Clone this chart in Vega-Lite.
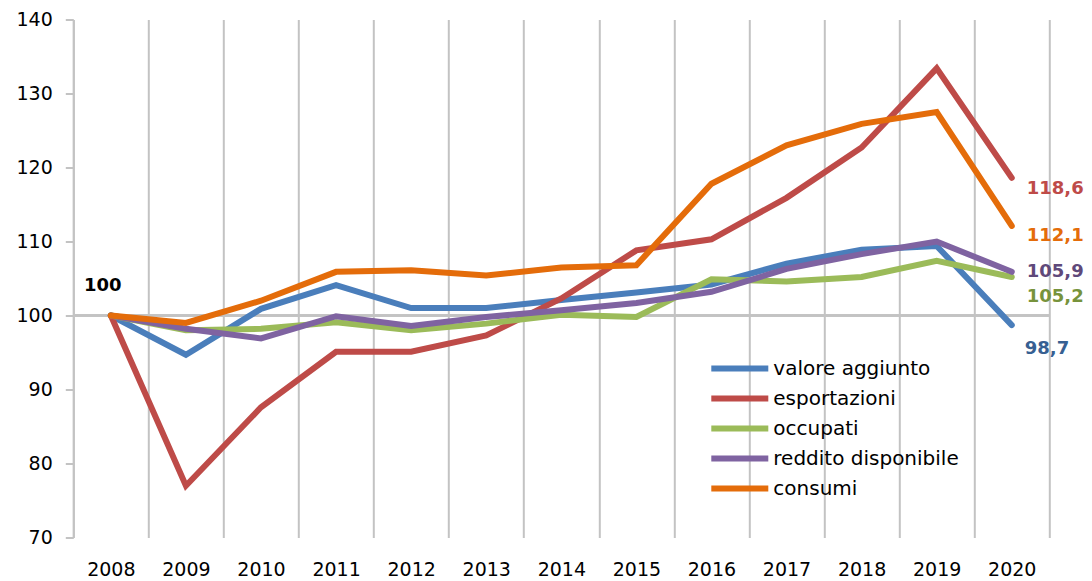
{
  "$schema": "https://vega.github.io/schema/vega-lite/v6.json",
  "width": 976,
  "height": 518,
  "autosize": {"type": "none"},
  "padding": {"left": 73.3, "top": 19.5, "right": 42.7, "bottom": 43.5},
  "background": "white",
  "config": {"view": {"stroke": null}, "font": "DejaVu Sans"},
  "data": {
    "values": [
      {"year": 2008, "series": "valore aggiunto", "value": 100},
      {"year": 2009, "series": "valore aggiunto", "value": 94.7},
      {"year": 2010, "series": "valore aggiunto", "value": 100.9},
      {"year": 2011, "series": "valore aggiunto", "value": 104.1},
      {"year": 2012, "series": "valore aggiunto", "value": 101.0},
      {"year": 2013, "series": "valore aggiunto", "value": 101.0},
      {"year": 2014, "series": "valore aggiunto", "value": 102.1},
      {"year": 2015, "series": "valore aggiunto", "value": 103.1},
      {"year": 2016, "series": "valore aggiunto", "value": 104.2},
      {"year": 2017, "series": "valore aggiunto", "value": 107.0},
      {"year": 2018, "series": "valore aggiunto", "value": 108.9},
      {"year": 2019, "series": "valore aggiunto", "value": 109.4},
      {"year": 2020, "series": "valore aggiunto", "value": 98.7},
      {"year": 2008, "series": "esportazioni", "value": 100},
      {"year": 2009, "series": "esportazioni", "value": 77.0},
      {"year": 2010, "series": "esportazioni", "value": 87.6},
      {"year": 2011, "series": "esportazioni", "value": 95.1},
      {"year": 2012, "series": "esportazioni", "value": 95.1},
      {"year": 2013, "series": "esportazioni", "value": 97.3},
      {"year": 2014, "series": "esportazioni", "value": 102.3},
      {"year": 2015, "series": "esportazioni", "value": 108.8},
      {"year": 2016, "series": "esportazioni", "value": 110.3},
      {"year": 2017, "series": "esportazioni", "value": 115.9},
      {"year": 2018, "series": "esportazioni", "value": 122.7},
      {"year": 2019, "series": "esportazioni", "value": 133.4},
      {"year": 2020, "series": "esportazioni", "value": 118.6},
      {"year": 2008, "series": "occupati", "value": 100},
      {"year": 2009, "series": "occupati", "value": 98.0},
      {"year": 2010, "series": "occupati", "value": 98.2},
      {"year": 2011, "series": "occupati", "value": 99.1},
      {"year": 2012, "series": "occupati", "value": 98.0},
      {"year": 2013, "series": "occupati", "value": 98.9},
      {"year": 2014, "series": "occupati", "value": 100.1},
      {"year": 2015, "series": "occupati", "value": 99.8},
      {"year": 2016, "series": "occupati", "value": 104.9},
      {"year": 2017, "series": "occupati", "value": 104.6},
      {"year": 2018, "series": "occupati", "value": 105.2},
      {"year": 2019, "series": "occupati", "value": 107.4},
      {"year": 2020, "series": "occupati", "value": 105.2},
      {"year": 2008, "series": "reddito disponibile", "value": 100},
      {"year": 2009, "series": "reddito disponibile", "value": 98.2},
      {"year": 2010, "series": "reddito disponibile", "value": 96.9},
      {"year": 2011, "series": "reddito disponibile", "value": 99.9},
      {"year": 2012, "series": "reddito disponibile", "value": 98.6},
      {"year": 2013, "series": "reddito disponibile", "value": 99.8},
      {"year": 2014, "series": "reddito disponibile", "value": 100.7},
      {"year": 2015, "series": "reddito disponibile", "value": 101.7},
      {"year": 2016, "series": "reddito disponibile", "value": 103.2},
      {"year": 2017, "series": "reddito disponibile", "value": 106.3},
      {"year": 2018, "series": "reddito disponibile", "value": 108.3},
      {"year": 2019, "series": "reddito disponibile", "value": 110.0},
      {"year": 2020, "series": "reddito disponibile", "value": 105.9},
      {"year": 2008, "series": "consumi", "value": 100},
      {"year": 2009, "series": "consumi", "value": 99.0},
      {"year": 2010, "series": "consumi", "value": 102.0},
      {"year": 2011, "series": "consumi", "value": 105.9},
      {"year": 2012, "series": "consumi", "value": 106.1},
      {"year": 2013, "series": "consumi", "value": 105.4},
      {"year": 2014, "series": "consumi", "value": 106.5},
      {"year": 2015, "series": "consumi", "value": 106.8},
      {"year": 2016, "series": "consumi", "value": 117.8},
      {"year": 2017, "series": "consumi", "value": 123.0},
      {"year": 2018, "series": "consumi", "value": 125.9},
      {"year": 2019, "series": "consumi", "value": 127.5},
      {"year": 2020, "series": "consumi", "value": 112.1}
    ]
  },
  "encoding": {
    "x": {
      "field": "year",
      "type": "ordinal",
      "scale": {"type": "band", "paddingInner": 0, "paddingOuter": 0},
      "axis": {
        "title": null,
        "labelAngle": 0,
        "tickBand": "extent",
        "grid": true,
        "gridColor": "#C3C3C3",
        "gridWidth": 2,
        "ticks": false,
        "tickSize": 0,
        "domain": false,
        "labelPadding": 23,
        "labelFontSize": 19,
        "labelColor": "#000000"
      }
    },
    "y": {
      "field": "value",
      "type": "quantitative",
      "scale": {"domain": [70, 140], "nice": false, "zero": false},
      "axis": {
        "title": null,
        "values": [70, 80, 90, 100, 110, 120, 130, 140],
        "grid": false,
        "domainColor": "#C3C3C3",
        "domainWidth": 2,
        "tickColor": "#C3C3C3",
        "tickWidth": 2,
        "tickSize": 8,
        "labelPadding": 13,
        "labelFontSize": 19,
        "labelColor": "#000000"
      }
    }
  },
  "layer": [
    {
      "mark": {"type": "rule", "color": "#C3C3C3", "strokeWidth": 2},
      "encoding": {"y": {"datum": 100}, "x": null}
    },
    {
      "mark": {"type": "line", "strokeWidth": 6, "strokeCap": "round", "strokeJoin": "miter"},
      "encoding": {
        "color": {
          "field": "series",
          "type": "nominal",
          "sort": null,
          "scale": {
            "domain": ["valore aggiunto", "esportazioni", "occupati", "reddito disponibile", "consumi"],
            "range": ["#4A7EBB", "#BE4B48", "#9BBB59", "#7F63A1", "#E46C0A"]
          },
          "legend": {
            "orient": "none",
            "legendX": 635,
            "legendY": 334,
            "title": null,
            "symbolType": "stroke",
            "symbolSize": 3249,
            "symbolStrokeWidth": 6,
            "labelFontSize": 20,
            "labelLimit": 0,
            "labelColor": "#000000",
            "labelOffset": 2,
            "clipHeight": 30,
            "rowPadding": 0
          }
        }
      }
    },
    {
      "transform": [{"filter": "datum.year == 2020 && datum.series == 'esportazioni'"}],
      "mark": {"type": "text", "align": "left", "baseline": "middle", "dx": 15, "dy": 11, "fontSize": 18, "fontWeight": "bold", "color": "#BE4B48"},
      "encoding": {"text": {"value": "118,6"}}
    },
    {
      "transform": [{"filter": "datum.year == 2020 && datum.series == 'consumi'"}],
      "mark": {"type": "text", "align": "left", "baseline": "middle", "dx": 15, "dy": 10, "fontSize": 18, "fontWeight": "bold", "color": "#E46C0A"},
      "encoding": {"text": {"value": "112,1"}}
    },
    {
      "transform": [{"filter": "datum.year == 2020 && datum.series == 'reddito disponibile'"}],
      "mark": {"type": "text", "align": "left", "baseline": "middle", "dx": 15, "dy": 0, "fontSize": 18, "fontWeight": "bold", "color": "#5F497A"},
      "encoding": {"text": {"value": "105,9"}}
    },
    {
      "transform": [{"filter": "datum.year == 2020 && datum.series == 'occupati'"}],
      "mark": {"type": "text", "align": "left", "baseline": "middle", "dx": 15, "dy": 20, "fontSize": 18, "fontWeight": "bold", "color": "#77933C"},
      "encoding": {"text": {"value": "105,2"}}
    },
    {
      "transform": [{"filter": "datum.year == 2020 && datum.series == 'valore aggiunto'"}],
      "mark": {"type": "text", "align": "left", "baseline": "middle", "dx": 13, "dy": 24, "fontSize": 18, "fontWeight": "bold", "color": "#376092"},
      "encoding": {"text": {"value": "98,7"}}
    },
    {
      "transform": [{"filter": "datum.year == 2008 && datum.series == 'consumi'"}],
      "mark": {"type": "text", "align": "center", "baseline": "middle", "dx": -8, "dy": -30, "fontSize": 18, "fontWeight": "bold", "color": "#000000"},
      "encoding": {"text": {"value": "100"}}
    }
  ]
}
